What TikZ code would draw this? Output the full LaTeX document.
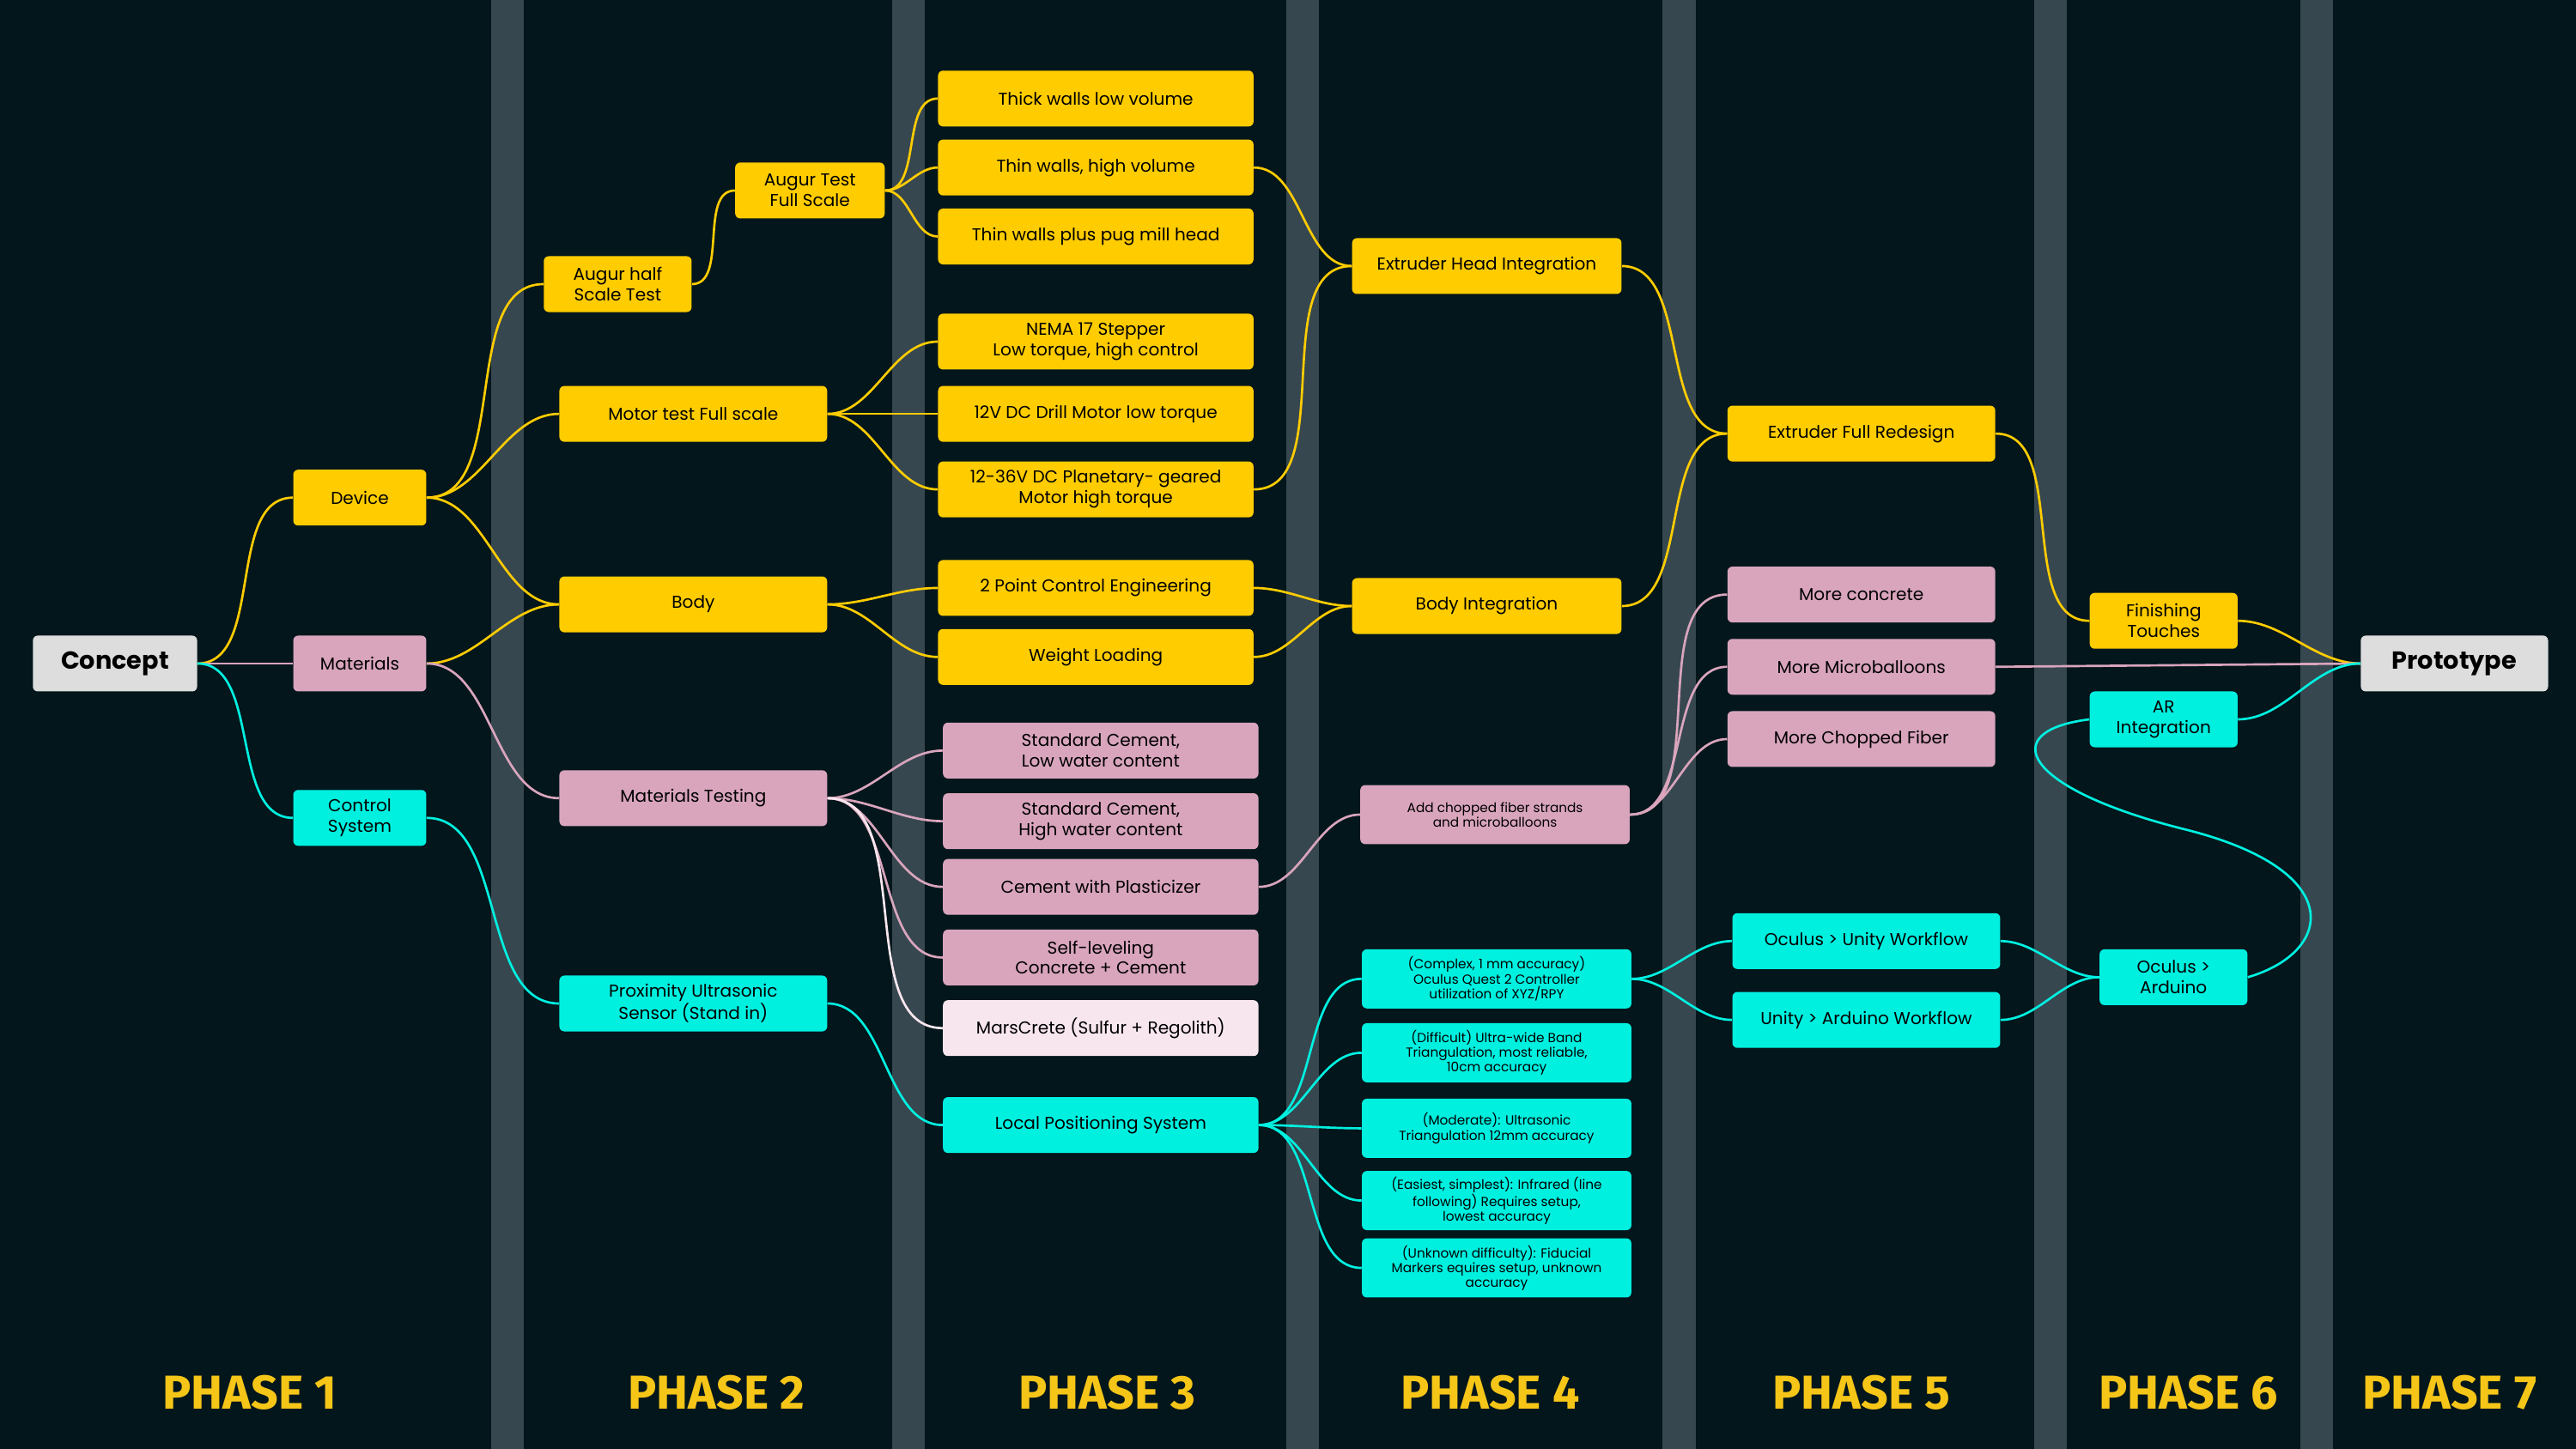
\documentclass[tikz,border=0pt]{standalone}
\usepackage{fontspec}
\setmainfont{Poppins}
\newfontfamily\phasefont{Fira Sans}
\begin{document}
\begin{tikzpicture}[x=1pt,y=-1pt,
 box/.style={rounded corners=3pt,minimum height=34pt,align=center,inner sep=1pt,font=\fontsize{10.5}{12.5}\selectfont},
 Y/.style={box,fill=yel},P/.style={box,fill=pnk},C/.style={box,fill=cyn},
 sm/.style={font=\fontsize{8}{9}\selectfont,minimum height=36pt},
 ey/.style={draw=yel,line width=1.4pt},ep/.style={draw=pnk,line width=1.4pt},ec/.style={draw=cyn,line width=1.4pt},
 lk/.style={out=0,in=180,looseness=0.9},
 ph/.style={text=phy,font=\phasefont\bfseries\fontsize{29}{30}\selectfont}]
\definecolor{bg}{HTML}{03161B}\definecolor{strip}{HTML}{37474F}
\definecolor{yel}{HTML}{FFCC00}\definecolor{pnk}{HTML}{D9A5BD}\definecolor{cyn}{HTML}{00F0E0}
\definecolor{lgr}{HTML}{DDDDDD}\definecolor{phy}{HTML}{F5C518}\definecolor{wp}{HTML}{F8E6EE}
\fill[bg] (0,0) rectangle (1568,882);
\useasboundingbox (0,0) rectangle (1568,882);
\foreach \a in {299,543,783,1012,1238,1400} \fill[strip] (\a,0) rectangle (\a+20,882);
\foreach \x/\n in {152/1,436/2,674/3,907/4,1133/5,1332/6,1491/7} \node[ph] at (\x,848) {PHASE \n};
% nodes
\node[box,fill=lgr,minimum width=100pt,font=\fontsize{15}{17}\selectfont\bfseries] (concept) at (70,404) {Concept};
\node[box,fill=lgr,minimum width=114pt,font=\fontsize{15}{17}\selectfont\bfseries] (proto) at (1494,404) {Prototype};
\node[Y,minimum width=81pt] (device) at (219,303) {Device};
\node[P,minimum width=81pt] (mat) at (219,404) {Materials};
\node[C,minimum width=81pt] (ctrl) at (219,498) {Control\\System};
\node[Y,minimum width=90pt] (ahalf) at (376,173) {Augur half\\Scale Test};
\node[Y,minimum width=91pt] (afull) at (493,116) {Augur Test\\Full Scale};
\node[Y,minimum width=163pt] (motor) at (422,252) {Motor test Full scale};
\node[Y,minimum width=163pt] (body) at (422,368) {Body};
\node[P,minimum width=163pt] (mtest) at (422,486) {Materials Testing};
\node[C,minimum width=163pt] (prox) at (422,611) {Proximity Ultrasonic\\Sensor (Stand in)};
\node[Y,minimum width=192pt] (thick) at (667,60) {Thick walls low volume};
\node[Y,minimum width=192pt] (thin) at (667,102) {Thin walls, high volume};
\node[Y,minimum width=192pt] (pug) at (667,144) {Thin walls plus pug mill head};
\node[Y,minimum width=192pt] (nema) at (667,208) {NEMA 17 Stepper\\Low torque, high control};
\node[Y,minimum width=192pt] (drill) at (667,252) {12V DC Drill Motor low torque};
\node[Y,minimum width=192pt] (plan) at (667,298) {12-36V DC Planetary- geared\\Motor high torque};
\node[Y,minimum width=192pt] (two) at (667,358) {2 Point Control Engineering};
\node[Y,minimum width=192pt] (weight) at (667,400) {Weight Loading};
\node[P,minimum width=192pt] (sc1) at (670,457) {Standard Cement,\\Low water content};
\node[P,minimum width=192pt] (sc2) at (670,500) {Standard Cement,\\High water content};
\node[P,minimum width=192pt] (plast) at (670,540) {Cement with Plasticizer};
\node[P,minimum width=192pt] (self) at (670,583) {Self-leveling\\Concrete + Cement};
\node[box,fill=wp,minimum width=192pt] (mars) at (670,626) {MarsCrete (Sulfur + Regolith)};
\node[C,minimum width=192pt] (lps) at (670,685) {Local Positioning System};
\node[Y,minimum width=164pt] (ehead) at (905,162) {Extruder Head Integration};
\node[Y,minimum width=164pt] (bint) at (905,369) {Body Integration};
\node[P,sm,minimum width=164pt] (chop) at (910,496) {Add chopped fiber strands\\and microballoons};
\node[C,sm,minimum width=164pt] (c1) at (911,596) {(Complex, 1 mm accuracy)\\Oculus Quest 2 Controller\\utilization of XYZ/RPY};
\node[C,sm,minimum width=164pt] (c2) at (911,641) {(Difficult) Ultra-wide Band\\Triangulation, most reliable,\\10cm accuracy};
\node[C,sm,minimum width=164pt] (c3) at (911,687) {(Moderate): Ultrasonic\\Triangulation 12mm accuracy};
\node[C,sm,minimum width=164pt] (c4) at (911,731) {(Easiest, simplest): Infrared (line\\following) Requires setup,\\lowest accuracy};
\node[C,sm,minimum width=164pt] (c5) at (911,772) {(Unknown difficulty): Fiducial\\Markers equires setup, unknown\\accuracy};
\node[Y,minimum width=163pt] (efull) at (1133,264) {Extruder Full Redesign};
\node[P,minimum width=163pt] (mc) at (1133,362) {More concrete};
\node[P,minimum width=163pt] (mm) at (1133,406) {More Microballoons};
\node[P,minimum width=163pt] (mf) at (1133,450) {More Chopped Fiber};
\node[C,minimum width=163pt] (ou) at (1136,573) {Oculus > Unity Workflow};
\node[C,minimum width=163pt] (ua) at (1136,621) {Unity > Arduino Workflow};
\node[Y,minimum width=90pt] (fin) at (1317,378) {Finishing\\Touches};
\node[C,minimum width=90pt] (ar) at (1317,438) {AR\\Integration};
\node[C,minimum width=90pt] (oa) at (1323,595) {Oculus >\\Arduino};
% edges
\draw[ey] (concept.east) to[lk] (device.west);
\draw[ep] (concept.east) to[lk] (mat.west);
\draw[ec] (concept.east) to[lk] (ctrl.west);
\foreach \b in {ahalf,motor,body} \draw[ey] (device.east) to[lk] (\b.west);
\draw[ey] (ahalf.east) to[lk] (afull.west);
\foreach \b in {thick,thin,pug} \draw[ey] (afull.east) to[lk] (\b.west);
\foreach \b in {nema,drill,plan} \draw[ey] (motor.east) to[lk] (\b.west);
\draw[ey] (mat.east) to[lk] (body.west);
\draw[ep] (mat.east) to[lk] (mtest.west);
\foreach \b in {two,weight} \draw[ey] (body.east) to[lk] (\b.west);
\foreach \b in {sc1,sc2,plast,self} \draw[ep] (mtest.east) to[lk] (\b.west);
\draw[draw=wp,line width=1.4pt] (mtest.east) to[lk] (mars.west);
\draw[ec] (ctrl.east) to[lk] (prox.west);
\draw[ec] (prox.east) to[lk] (lps.west);
\draw[ey] (thin.east) to[lk] (ehead.west);
\draw[ey] (plan.east) to[lk] (ehead.west);
\draw[ey] (two.east) to[lk] (bint.west);
\draw[ey] (weight.east) to[lk] (bint.west);
\draw[ep] (plast.east) to[lk] (chop.west);
\foreach \b in {c1,c2,c3,c4,c5} \draw[ec] (lps.east) to[lk] (\b.west);
\draw[ey] (ehead.east) to[lk] (efull.west);
\draw[ey] (bint.east) to[lk] (efull.west);
\foreach \b in {mc,mm,mf} \draw[ep] (chop.east) to[lk] (\b.west);
\draw[ec] (c1.east) to[lk] (ou.west);
\draw[ec] (c1.east) to[lk] (ua.west);
\draw[ec] (ou.east) to[lk] (oa.west);
\draw[ec] (ua.east) to[lk] (oa.west);
\draw[ey] (efull.east) to[lk] (fin.west);
\draw[ey] (fin.east) to[lk] (proto.west);
\draw[ep] (mm.east) -- (proto.west);
\draw[ec] (ar.east) to[lk] (proto.west);
\draw[ec] (oa.east) .. controls (1420,580) and (1430,530) .. (1330,505) .. controls (1230,480) and (1215,445) .. (ar.west);
\end{tikzpicture}
\end{document}
